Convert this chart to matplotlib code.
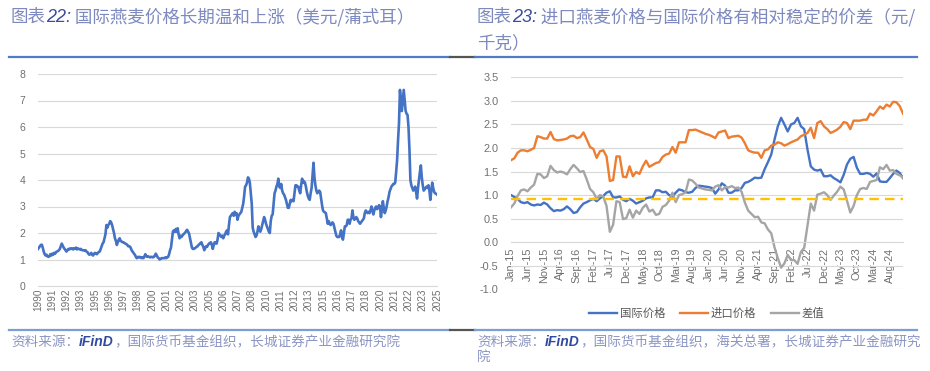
import numpy as np
import matplotlib
matplotlib.use('Agg')
import matplotlib.pyplot as plt
from matplotlib.lines import Line2D
from matplotlib.ticker import FormatStrFormatter

plt.rcParams['font.family'] = ['Noto Sans CJK SC', 'DejaVu Sans']

# left chart: international oat price, USD/bushel, monthly Jan-1990 .. Jan-2025
oat_price = [
    1.40, 1.45, 1.50, 1.55, 1.56, 1.45, 1.30, 1.20, 1.15, 1.18, 1.12, 1.10,  # 1990
    1.12, 1.20, 1.15, 1.22, 1.18, 1.25, 1.22, 1.28, 1.30, 1.32, 1.35, 1.40,  # 1991
    1.50, 1.60, 1.52, 1.45, 1.40, 1.35, 1.30, 1.35, 1.40, 1.38, 1.42, 1.40,  # 1992
    1.42, 1.38, 1.42, 1.40, 1.45, 1.38, 1.42, 1.40, 1.38, 1.40, 1.36, 1.35,  # 1993
    1.35, 1.33, 1.35, 1.30, 1.28, 1.22, 1.18, 1.20, 1.25, 1.18, 1.15, 1.22,  # 1994
    1.25, 1.22, 1.20, 1.25, 1.28, 1.30, 1.40, 1.50, 1.60, 1.65, 1.80, 1.95,  # 1995
    2.30, 2.20, 2.30, 2.35, 2.45, 2.40, 2.30, 2.15, 2.00, 1.80, 1.70, 1.55,  # 1996
    1.65, 1.75, 1.80, 1.70, 1.68, 1.65, 1.65, 1.62, 1.60, 1.58, 1.55, 1.50,  # 1997
    1.50, 1.48, 1.40, 1.32, 1.28, 1.22, 1.18, 1.10, 1.05, 1.10, 1.08, 1.10,  # 1998
    1.08, 1.05, 1.08, 1.05, 1.12, 1.20, 1.12, 1.10, 1.12, 1.10, 1.08, 1.10,  # 1999
    1.10, 1.08, 1.10, 1.15, 1.22, 1.15, 1.08, 1.05, 1.00, 1.02, 1.05, 1.05,  # 2000
    1.05, 1.05, 1.08, 1.05, 1.08, 1.10, 1.20, 1.35, 1.45, 1.75, 2.05, 2.10,  # 2001
    2.05, 2.15, 2.05, 2.18, 1.95, 1.80, 1.90, 1.85, 1.90, 1.95, 1.98, 2.02,  # 2002
    2.08, 2.12, 2.05, 1.98, 1.80, 1.60, 1.45, 1.40, 1.40, 1.42, 1.45, 1.48,  # 2003
    1.50, 1.55, 1.58, 1.62, 1.65, 1.55, 1.48, 1.35, 1.42, 1.50, 1.48, 1.55,  # 2004
    1.60, 1.62, 1.65, 1.55, 1.40, 1.55, 1.65, 1.62, 1.60, 1.75, 2.00, 1.95,  # 2005
    1.90, 1.85, 1.90, 1.80, 1.90, 1.95, 2.05, 2.10, 1.95, 2.30, 2.60, 2.65,  # 2006
    2.70, 2.75, 2.65, 2.80, 2.70, 2.75, 2.50, 2.65, 2.70, 2.75, 2.80, 2.95,  # 2007
    3.10, 3.40, 3.75, 3.80, 3.90, 4.10, 4.05, 3.90, 3.50, 3.10, 2.20, 2.05,  # 2008
    1.95, 1.85, 1.90, 2.05, 2.25, 2.10, 2.05, 2.15, 2.30, 2.45, 2.60, 2.50,  # 2009
    2.35, 2.25, 2.15, 2.05, 2.00, 2.45, 2.65, 2.70, 3.10, 3.50, 3.60, 3.75,  # 2010
    3.85, 4.05, 3.75, 3.70, 3.85, 3.60, 3.50, 3.45, 3.35, 3.25, 3.10, 2.95,  # 2011
    2.95, 3.10, 3.25, 3.20, 3.25, 3.20, 3.50, 3.80, 3.80, 3.75, 3.75, 3.60,  # 2012
    3.50, 3.80, 4.05, 3.90, 3.95, 3.90, 3.75, 3.55, 3.40, 3.30, 3.25, 3.50,  # 2013
    3.70, 4.20, 4.65, 4.10, 3.80, 3.60, 3.50, 3.55, 3.60, 3.55, 3.30, 3.05,  # 2014
    2.85, 2.80, 2.78, 2.75, 2.55, 2.35, 2.45, 2.35, 2.30, 2.35, 2.40, 2.35,  # 2015
    2.20, 2.05, 1.90, 1.85, 1.85, 1.85, 1.95, 2.10, 1.85, 1.75, 2.00, 2.25,  # 2016
    2.25, 2.30, 2.50, 2.50, 2.35, 2.50, 2.55, 2.85, 2.60, 2.50, 2.55, 2.60,  # 2017
    2.55, 2.45, 2.40, 2.35, 2.40, 2.45, 2.50, 2.55, 2.75, 2.85, 2.80, 2.75,  # 2018
    2.80, 2.75, 2.85, 3.00, 2.85, 2.70, 2.85, 2.95, 3.00, 2.90, 2.95, 3.05,  # 2019
    3.00, 2.60, 2.90, 3.20, 2.95, 2.75, 2.85, 3.00, 3.20, 3.35, 3.55, 3.65,  # 2020
    3.75, 3.80, 3.85, 3.85, 3.90, 4.30, 4.75, 5.50, 6.15, 7.40, 7.00, 6.60,  # 2021
    7.00, 7.40, 7.00, 6.60, 6.50, 6.45, 6.00, 5.15, 4.00, 3.80, 3.70, 3.60,  # 2022
    3.65, 3.75, 3.55, 3.30, 3.70, 4.00, 4.30, 4.55, 4.10, 3.80, 3.60, 3.65,  # 2023
    3.70, 3.75, 3.70, 3.80, 3.60, 3.25, 3.60, 3.90, 3.70, 3.55, 3.50, 3.48,  # 2024
    3.45,                                                                    # 2025
]
left_tick_labels = ['1990', '1991', '1992', '1993', '1995', '1996', '1997', '1998',
                    '2000', '2001', '2002', '2003', '2005', '2006', '2007', '2008',
                    '2010', '2011', '2012', '2013', '2015', '2016', '2017', '2018',
                    '2020', '2021', '2022', '2023', '2025']

# right chart: yuan/kg, monthly Jan-15 .. Dec-24
intl_price = [
    1.00, 0.96, 0.92, 0.85, 0.83, 0.85, 0.80, 0.78, 0.80, 0.79, 0.84, 0.80,
    0.72, 0.66, 0.68, 0.67, 0.70, 0.76, 0.70, 0.62, 0.64, 0.74, 0.82, 0.85,
    0.89, 0.92, 0.87, 0.93, 0.98, 1.05, 1.08, 0.95, 0.95, 0.97, 0.90, 0.87,
    0.92, 0.88, 0.82, 0.85, 0.88, 0.93, 0.95, 0.95, 1.10, 1.10, 1.06, 1.07,
    1.00, 0.97, 1.05, 1.12, 1.10, 1.06, 1.05, 1.07, 1.15, 1.20, 1.19, 1.18,
    1.17, 1.15, 1.03, 1.12, 1.25, 1.20, 1.05, 1.05, 1.10, 1.10, 1.15, 1.26,
    1.28, 1.32, 1.37, 1.36, 1.37, 1.55, 1.70, 1.86, 2.18, 2.46, 2.64, 2.50,
    2.35, 2.50, 2.53, 2.64, 2.46, 2.40, 1.97, 1.61, 1.54, 1.52, 1.54, 1.40,
    1.40, 1.42, 1.36, 1.32, 1.27, 1.43, 1.65, 1.77, 1.81, 1.58, 1.45, 1.45,
    1.47, 1.45, 1.39, 1.46, 1.29, 1.28, 1.28, 1.36, 1.45, 1.52, 1.47, 1.36,
]
import_price = [
    1.74, 1.78, 1.90, 1.95, 1.95, 1.93, 1.96, 2.00, 2.25, 2.23, 2.20, 2.20,
    2.34, 2.19, 2.16, 2.17, 2.18, 2.20, 2.25, 2.26, 2.21, 2.23, 2.33, 2.18,
    2.02, 1.98, 1.79, 1.93, 1.95, 1.82, 1.30, 1.32, 1.82, 1.82, 1.39, 1.38,
    1.61, 1.40, 1.49, 1.45, 1.61, 1.73, 1.60, 1.64, 1.68, 1.70, 1.81, 1.86,
    1.88, 2.02, 1.90, 2.12, 2.12, 2.12, 2.38, 2.38, 2.39, 2.36, 2.33, 2.30,
    2.28, 2.25, 2.21, 2.33, 2.35, 2.37, 2.21, 2.24, 2.25, 2.26, 2.22, 2.10,
    1.95, 1.92, 1.90, 1.90, 1.79, 1.95, 1.97, 2.05, 2.07, 2.12, 2.10, 2.05,
    2.08, 2.12, 2.15, 2.18, 2.25, 2.28, 2.32, 2.43, 2.21, 2.53, 2.57, 2.46,
    2.40, 2.32, 2.35, 2.39, 2.45, 2.55, 2.53, 2.40, 2.58, 2.58, 2.58, 2.60,
    2.60, 2.73, 2.69, 2.78, 2.88, 2.83, 2.92, 2.88, 2.98, 2.97, 2.89, 2.73,
]
spread = [
    0.74, 0.82, 0.98, 1.10, 1.12, 1.08, 1.16, 1.22, 1.45, 1.44, 1.36, 1.40,
    1.62, 1.53, 1.48, 1.50, 1.48, 1.44, 1.55, 1.64, 1.57, 1.49, 1.51, 1.33,
    1.13, 1.06, 0.92, 1.00, 0.97, 0.77, 0.22, 0.37, 0.87, 0.85, 0.49, 0.51,
    0.69, 0.52, 0.67, 0.60, 0.73, 0.80, 0.65, 0.69, 0.58, 0.60, 0.75, 0.79,
    0.88, 1.05, 0.85, 1.00, 1.02, 1.06, 1.33, 1.31, 1.24, 1.16, 1.14, 1.12,
    1.11, 1.10, 1.18, 1.21, 1.10, 1.17, 1.16, 1.19, 1.15, 1.16, 1.07, 0.84,
    0.67, 0.60, 0.53, 0.54, 0.42, 0.40, 0.27, 0.19, -0.11, -0.34, -0.54, -0.45,
    -0.27, -0.38, -0.38, -0.46, -0.21, -0.12, 0.35, 0.82, 0.67, 1.01, 1.03, 1.06,
    1.00, 0.90, 0.99, 1.07, 1.18, 1.12, 0.88, 0.63, 0.77, 1.00, 1.13, 1.15,
    1.13, 1.28, 1.30, 1.32, 1.59, 1.55, 1.64, 1.52, 1.53, 1.45, 1.42, 1.37,
]
avg_spread = 0.92
right_tick_labels = ['Jan-15', 'Jun-15', 'Nov-15', 'Apr-16', 'Sep-16', 'Feb-17',
                     'Jul-17', 'Dec-17', 'May-18', 'Oct-18', 'Mar-19', 'Aug-19',
                     'Jan-20', 'Jun-20', 'Nov-20', 'Apr-21', 'Sep-21', 'Feb-22',
                     'Jul-22', 'Dec-22', 'May-23', 'Oct-23', 'Mar-24', 'Aug-24']
legend_names = ['国际价格', '进口价格', '差值']

W, H = 930, 371
GRID = '#d9d9d9'
TICK = '#707070'


def box(x0, y0, x1, y1):
    # pixel box (top-left origin) -> figure fraction rect
    return [x0 / W, 1 - y1 / H, (x1 - x0) / W, (y1 - y0) / H]


def hline(x0, x1, y, color, lw):
    fig.add_artist(Line2D([x0 / W, x1 / W], [1 - y / H, 1 - y / H],
                          transform=fig.transFigure, color=color, lw=lw))


def put_runs(x, y, runs):
    # draw text pieces one after the other on one baseline
    renderer = fig.canvas.get_renderer()
    xf = x / W
    for s, kw in runs:
        t = fig.text(xf, 1 - y / H, s, ha='left', va='center', **kw)
        xf = t.get_window_extent(renderer).x1 / W


def style_axes(ax):
    for side in ['top', 'right', 'left']:
        ax.spines[side].set_visible(False)
    ax.spines['bottom'].set_color(GRID)
    ax.grid(axis='y', color=GRID, lw=0.8)
    ax.set_axisbelow(True)
    ax.tick_params(length=0, labelcolor=TICK, labelfontfamily='Liberation Sans')


fig = plt.figure(figsize=(9.3, 3.71), dpi=100)

# ---- left chart
ax1 = fig.add_axes(box(38, 74, 437, 286))
months = np.arange(len(oat_price))
ax1.plot(months, oat_price, color='#4472C4', lw=1.9)
ax1.set_xlim(0, len(oat_price) - 1)
ax1.set_ylim(0, 8)
style_axes(ax1)
ax1.set_yticks(range(0, 9))
ax1.set_xticks(np.arange(0, len(oat_price), 15))
ax1.set_xticklabels(left_tick_labels)
ax1.tick_params(axis='y', pad=9, labelsize=7.5)
ax1.tick_params(axis='x', pad=2, labelsize=7.2, labelrotation=90)

# ---- right chart
ax2 = fig.add_axes(box(511, 77.3, 903, 289.3))
x2 = np.arange(len(intl_price))
colors = ['#4472C4', '#ED7D31', '#A5A5A5']
handles = []
for ys, c, name in zip([intl_price, import_price, spread], colors, legend_names):
    ln, = ax2.plot(x2, ys, color=c, lw=1.7, label=name)
    handles.append(ln)
ax2.plot(x2, [avg_spread] * len(x2), color='#FFC000', lw=1.7, ls=(0, (4, 2.6)))
ax2.set_xlim(0, len(intl_price) - 1)
ax2.set_ylim(-1, 3.5)
style_axes(ax2)
ax2.spines['bottom'].set_position(('data', 0))
ax2.set_yticks(np.arange(-1, 3.51, 0.5))
ax2.yaxis.set_major_formatter(FormatStrFormatter('%.1f'))
ax2.set_xticks(np.arange(0, len(intl_price), 5))
ax2.set_xticklabels(right_tick_labels)
ax2.tick_params(length=0, labelcolor=TICK, labelfontfamily='Liberation Sans')
ax2.tick_params(axis='y', pad=9, labelsize=7.8)
ax2.tick_params(axis='x', pad=4, labelsize=7.8, labelrotation=90)

fig.legend(handles=handles, loc='center', bbox_to_anchor=(707 / W, 1 - 313 / H),
           ncol=3, frameon=False, fontsize=8.2, handlelength=2.4,
           handletextpad=0.3, columnspacing=1.3, labelcolor='#595959')

# ---- frame lines
hline(9, 450, 56.5, '#4f7cc4', 1.6)
hline(450, 475, 56.5, '#555555', 1.6)
hline(475, 917, 56.5, '#4f7cc4', 1.6)
hline(9, 450, 329.5, '#7a9fd6', 1.6)
hline(450, 475, 329.5, '#555555', 1.6)
hline(475, 917, 329.5, '#7a9fd6', 1.6)

# ---- titles
title_kw = dict(fontsize=12.6, color='#7d89bf')
num_kw = dict(fontsize=13, color='#3c4d9c', family='Liberation Sans',
              style='italic')
put_runs(11, 17, [('图表', title_kw), ('22:', num_kw),
                  (' 国际燕麦价格长期温和上涨（美元/蒲式耳）', title_kw)])
put_runs(477, 17, [('图表', title_kw), ('23:', num_kw),
                   (' 进口燕麦价格与国际价格有相对稳定的价差（元/', title_kw)])
put_runs(477, 43, [('千克）', title_kw)])

# ---- sources
src_kw = dict(fontsize=9.8, color='#8c96c4')
ifind_kw = dict(fontsize=10, color='#2f4a9e', family='Liberation Sans',
                style='italic', weight='bold')
put_runs(11, 342, [('资料来源：', src_kw), ('iFinD', ifind_kw),
                   ('，国际货币基金组织，长城证券产业金融研究院', src_kw)])
put_runs(477, 342, [('资料来源：', src_kw), ('iFinD', ifind_kw),
                    ('，国际货币基金组织，海关总署，长城证券产业金融研究', src_kw)])
put_runs(477, 357, [('院', src_kw)])

fig.savefig('out.png', dpi=100)
